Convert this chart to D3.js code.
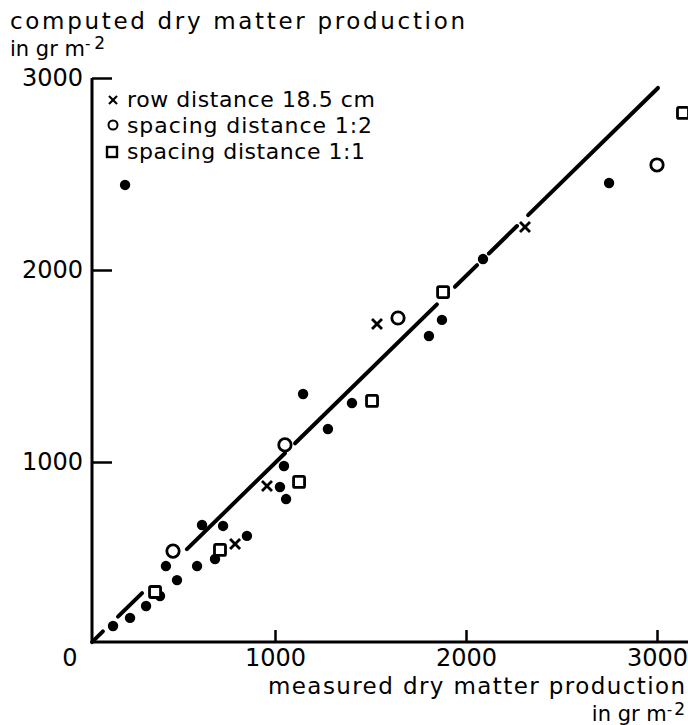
<!DOCTYPE html>
<html>
<head>
<meta charset="utf-8">
<script src="https://cdn.jsdelivr.net/npm/d3@7"></script>
<style>
  html, body { margin: 0; padding: 0; background: #fff; }
  svg { display: block; }
  text { font-family: "DejaVu Sans", sans-serif; fill: #000; }
</style>
</head>
<body>
<svg id="chart" width="688" height="725"></svg>
<script>
// ---- data ----
const xTicks = [1000, 2000, 3000];
const yTicks = [1000, 2000, 3000];

// filled dots (unlabelled series)
const dotsMeasured = [215, 152, 241, 325, 398, 429, 487, 592, 686, 618, 728, 853, 1047, 1026, 1058, 1147, 1277, 1403, 1806, 1874, 2089, 2749];
const dotsComputed = [2443, 146, 188, 250, 302, 458, 385, 458, 495, 672, 667, 615, 979, 870, 807, 1354, 1172, 1307, 1656, 1740, 2057, 2453];

// x : row distance 18.5 cm
const rowMeasured = [791, 958, 1534, 2309];
const rowComputed = [573, 875, 1719, 2224];

// o : spacing distance 1:2
const sp12Measured = [466, 1052, 1644, 3000];
const sp12Computed = [536, 1089, 1750, 2547];

// square : spacing distance 1:1
const sp11Measured = [372, 712, 1126, 1508, 1880, 3136];
const sp11Computed = [323, 542, 896, 1318, 1885, 2818];

// regression line end points and the visible pieces (measured-axis ranges)
const fitLine = [[42, 62], [3005, 2948]];
const fitPieces = [[42, 99], [178, 304], [539, 1052], [1105, 1848], [1942, 2058], [2120, 2267], [2325, 3005]];

const legendLabels = ["row distance 18.5 cm", "spacing distance 1:2", "spacing distance 1:1"];

// ---- drawing ----
const svg = d3.select("#chart");
const x = d3.scaleLinear().domain([0, 3000]).range([84, 657]);
const y = d3.scaleLinear().domain([0, 3000]).range([654, 78]);

const axisX0 = 92, axisY0 = 642;
const tickFont = 24;

// axis lines
svg.append("line").attr("x1", axisX0).attr("x2", axisX0).attr("y1", y(3000)).attr("y2", axisY0)
  .attr("stroke", "#000").attr("stroke-width", 3);
svg.append("line").attr("x1", axisX0 - 1).attr("x2", 688).attr("y1", axisY0).attr("y2", axisY0)
  .attr("stroke", "#000").attr("stroke-width", 3);

// x axis
const gx = svg.append("g").attr("transform", `translate(0,${axisY0})`)
  .call(d3.axisBottom(x).tickValues(xTicks).tickSize(-12).tickPadding(7).tickFormat(d3.format("d")));
gx.select(".domain").remove();
gx.selectAll(".tick line").attr("stroke", "#000").attr("stroke-width", 2.5);
gx.selectAll(".tick text").attr("font-size", tickFont).attr("font-family", "DejaVu Sans");
svg.append("text").attr("x", 70).attr("y", axisY0 + 7).attr("dy", "0.71em")
  .attr("text-anchor", "middle").attr("font-size", tickFont).text("0");

// y axis
const gy = svg.append("g").attr("transform", `translate(${axisX0},0)`)
  .call(d3.axisLeft(y).tickValues(yTicks).tickSize(-20).tickPadding(9).tickFormat(d3.format("d")));
gy.select(".domain").remove();
gy.selectAll(".tick line").attr("stroke", "#000").attr("stroke-width", 2.5);
gy.selectAll(".tick text").attr("font-size", tickFont).attr("font-family", "DejaVu Sans");

// regression line pieces
const lineY = mx => fitLine[0][1] + (mx - fitLine[0][0]) * (fitLine[1][1] - fitLine[0][1]) / (fitLine[1][0] - fitLine[0][0]);
svg.append("g").selectAll("line").data(fitPieces).join("line")
  .attr("x1", d => x(d[0])).attr("y1", d => y(lineY(d[0])))
  .attr("x2", d => x(d[1])).attr("y2", d => y(lineY(d[1])))
  .attr("stroke", "#000").attr("stroke-width", 4).attr("stroke-linecap", "round");

// marker helpers
function drawCross(g, cx, cy, s, w) {
  g.append("line").attr("x1", cx - s).attr("y1", cy - s).attr("x2", cx + s).attr("y2", cy + s)
    .attr("stroke", "#000").attr("stroke-width", w);
  g.append("line").attr("x1", cx - s).attr("y1", cy + s).attr("x2", cx + s).attr("y2", cy - s)
    .attr("stroke", "#000").attr("stroke-width", w);
}

const marks = svg.append("g");
marks.selectAll("circle.dot").data(d3.zip(dotsMeasured, dotsComputed)).join("circle")
  .attr("class", "dot").attr("cx", d => x(d[0])).attr("cy", d => y(d[1])).attr("r", 5.2).attr("fill", "#000");

marks.selectAll("circle.sp12").data(d3.zip(sp12Measured, sp12Computed)).join("circle")
  .attr("class", "sp12").attr("cx", d => x(d[0])).attr("cy", d => y(d[1])).attr("r", 6.2)
  .attr("fill", "#fff").attr("stroke", "#000").attr("stroke-width", 2.8);

marks.selectAll("rect.sp11").data(d3.zip(sp11Measured, sp11Computed)).join("rect")
  .attr("class", "sp11").attr("x", d => x(d[0]) - 5.5).attr("y", d => y(d[1]) - 5.5)
  .attr("width", 11).attr("height", 11).attr("rx", 1.5)
  .attr("fill", "#fff").attr("stroke", "#000").attr("stroke-width", 2.8);

d3.zip(rowMeasured, rowComputed).forEach(d => drawCross(marks, x(d[0]), y(d[1]), 5, 2.8));

// legend
const lg = svg.append("g");
drawCross(lg, 113, 100, 4, 2.2);
lg.append("circle").attr("cx", 113).attr("cy", 125).attr("r", 4.5).attr("fill", "#fff").attr("stroke", "#000").attr("stroke-width", 2);
lg.append("rect").attr("x", 107).attr("y", 147).attr("width", 10).attr("height", 10).attr("fill", "#fff").attr("stroke", "#000").attr("stroke-width", 2.4);
const legendWidths = [248, 245, 238];
lg.selectAll("text").data(legendLabels).join("text")
  .attr("x", 127).attr("y", (d, i) => 107 + i * 26)
  .attr("font-size", 22).attr("textLength", (d, i) => legendWidths[i]).attr("lengthAdjust", "spacing")
  .text(d => d);

// axis titles
svg.append("text").attr("x", 10).attr("y", 29).attr("font-size", 23)
  .attr("textLength", 455).attr("lengthAdjust", "spacing").text("computed dry matter production");
const yUnit = svg.append("text").attr("x", 10).attr("y", 56).attr("font-size", 21);
yUnit.append("tspan").text("in gr  m");
yUnit.append("tspan").attr("font-size", 15).attr("dy", -7).text("-");
yUnit.append("tspan").attr("font-size", 17).attr("dx", 4).text("2");

svg.append("text").attr("x", 685).attr("y", 694).attr("font-size", 23).attr("text-anchor", "end")
  .attr("textLength", 417).attr("lengthAdjust", "spacing").text("measured dry matter production");
const xUnit = svg.append("text").attr("x", 685).attr("y", 721).attr("font-size", 21).attr("text-anchor", "end");
xUnit.append("tspan").text("in gr  m");
xUnit.append("tspan").attr("font-size", 15).attr("dy", -6).text("-");
xUnit.append("tspan").attr("font-size", 17).attr("dx", 2).text("2");
</script>
</body>
</html>
